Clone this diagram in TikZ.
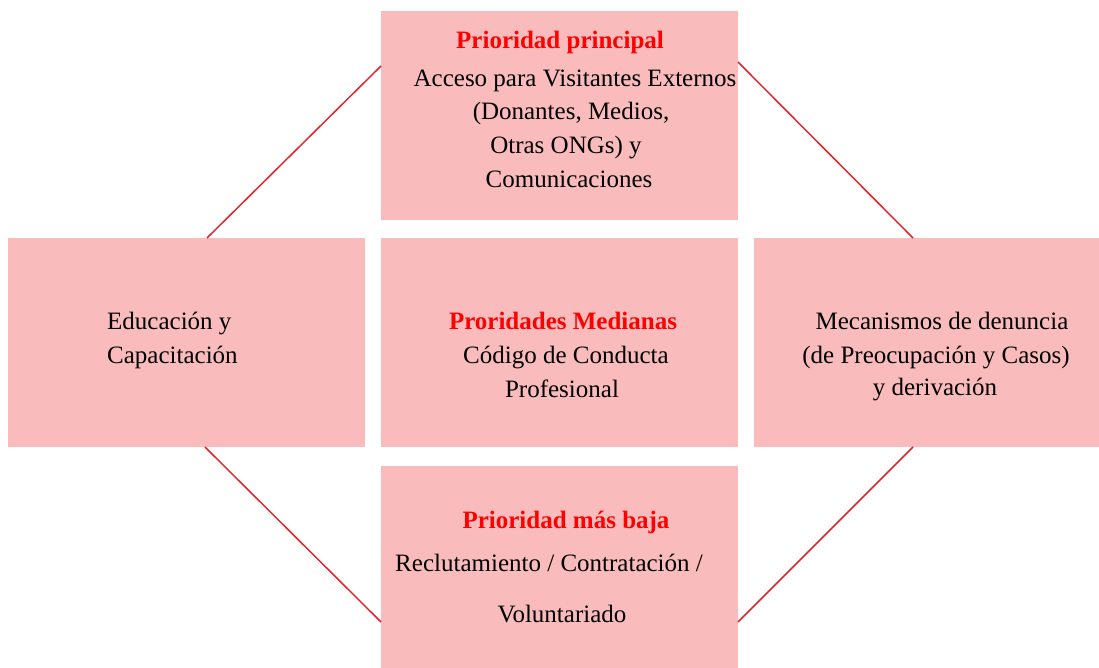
\documentclass[tikz,border=0pt]{standalone}
\usepackage{fontspec}
\setmainfont{Liberation Serif}
\definecolor{boxpink}{HTML}{F9BBBB}
\definecolor{linered}{HTML}{E3242B}
\definecolor{headred}{HTML}{FF0000}
\begin{document}
\begin{tikzpicture}[x=1pt,y=-1pt,
  box/.style={fill=boxpink,draw=none,inner sep=0pt},
  txt/.style={font=\fontsize{25}{30}\selectfont,inner sep=0pt,anchor=base},
  head/.style={txt,font=\fontsize{25}{30}\selectfont\bfseries,text=headred},
  conn/.style={draw=linered,line width=1.5pt}]
\useasboundingbox (0,0) rectangle (1099,668);
% boxes
\node[box,minimum width=357pt,minimum height=209pt] (T) at (559.5,115.5) {};
\node[box,minimum width=357pt,minimum height=209pt] (L) at (186.5,342.5) {};
\node[box,minimum width=357pt,minimum height=209pt] (C) at (559.5,342.5) {};
\node[box,minimum width=345pt,minimum height=209pt] (R) at (926.5,342.5) {};
\node[box,minimum width=357pt,minimum height=202pt] (B) at (559.5,567) {};
% connector end points
\coordinate (l1) at (207,238);
\coordinate (t1) at (381,66);
\coordinate (t2) at (738,62);
\coordinate (r1) at (913,238);
\coordinate (l2) at (205,447);
\coordinate (b1) at (381,622);
\coordinate (r2) at (913,447);
\coordinate (b2) at (738,622);
\draw[conn] (l1) -- (t1);
\draw[conn] (t2) -- (r1);
\draw[conn] (l2) -- (b1);
\draw[conn] (r2) -- (b2);
% top
\node[head] (t0) at (560,49) {Prioridad principal};
\node[txt] (ta) at (575,87) {Acceso para Visitantes Externos};
\node[txt] (tb) at (571,120) {(Donantes, Medios,};
\node[txt] (tc) at (566,154) {Otras ONGs) y};
\node[txt] (td) at (569,188) {Comunicaciones};
% left
\node[txt,anchor=base west] (la) at (107,329) {Educación y};
\node[txt,anchor=base west] (lb) at (107,363) {Capacitación};
% center
\node[head] (c0) at (563,329) {Proridades Medianas};
\node[txt] (ca) at (566,363) {Código de Conducta};
\node[txt] (cb) at (562,397) {Profesional};
% right
\node[txt] (ra) at (942,329) {Mecanismos de denuncia};
\node[txt] (rb) at (936,363) {(de Preocupación y Casos)};
\node[txt] (rc) at (935,395) {y derivación};
% bottom
\node[head] (b0) at (566,528) {Prioridad más baja};
\node[txt] (ba) at (549,571) {Reclutamiento / Contratación /};
\node[txt] (bb) at (562,622) {Voluntariado};
\end{tikzpicture}
\end{document}
